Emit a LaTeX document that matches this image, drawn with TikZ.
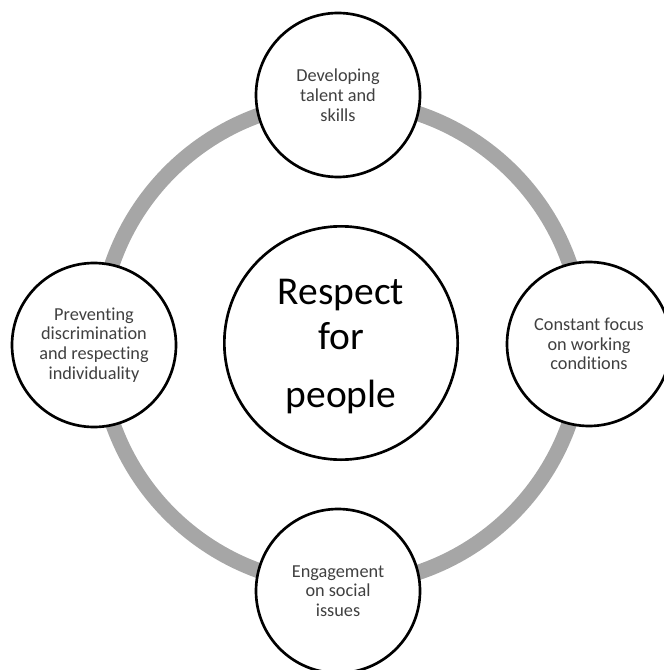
\documentclass[tikz,border=0pt]{standalone}
\usepackage{fontspec}
\setmainfont{Carlito}[Ligatures=NoCommon]
\definecolor{ringgray}{HTML}{A6A6A6}
\definecolor{labelgray}{HTML}{404040}
\tikzset{
  ring/.style={draw=ringgray, line width=11.5pt},
  item/.style={circle, draw=black, line width=2pt, fill=white, minimum size=123pt, inner sep=0pt, align=center, text=labelgray, font=\fontsize{13.7pt}{14.8pt}\selectfont},
  hub/.style={circle, draw=black, line width=2pt, fill=white, minimum size=175pt, inner sep=0pt, align=center, text=black, font=\fontsize{29.6pt}{33.75pt}\selectfont}
}
\begin{document}
\begin{tikzpicture}[x=0.75pt, y=-0.75pt]
\useasboundingbox (0,0) rectangle (663,670);
\coordinate (c) at (341,343);
\draw[ring] (c) circle[radius=181.5pt];
\node[hub] (hub) at (341,343) {};
\node[text=black, align=center, font=\fontsize{29.6pt}{33.75pt}\selectfont] (hubtext) at (341,347) {Respect\\for\\[9.75pt]people};
\node[item] (top) at (338,95) {Developing\\talent and\\skills};
\node[item] (left) at (94,345) {Preventing\\discrimination\\and respecting\\individuality};
\node[item] (right) at (589,344) {Constant focus\\on working\\conditions};
\node[item] (bottom) at (338,591) {Engagement\\on social\\issues};
\end{tikzpicture}
\end{document}
